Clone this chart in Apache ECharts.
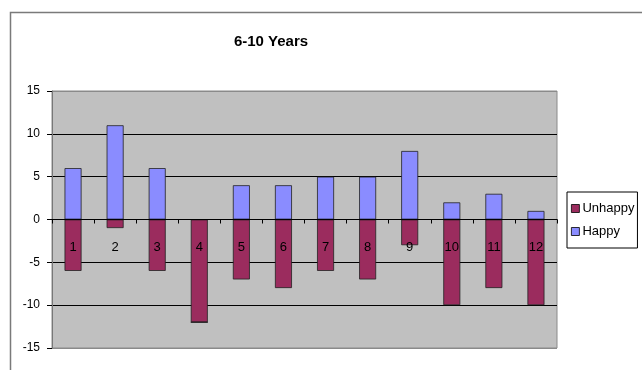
<!DOCTYPE html>
<html>
<head>
<meta charset="utf-8">
<script src="https://cdn.jsdelivr.net/npm/echarts@6/dist/echarts.min.js"></script>
<style>
  html, body { margin: 0; padding: 0; background: #ffffff; }
  #chart { width: 642px; height: 370px; }
</style>
</head>
<body>
<div id="chart"></div>
<script>
// Respondent groups and their counts
const categories = ['1', '2', '3', '4', '5', '6', '7', '8', '9', '10', '11', '12'];
const unhappy = [-6, -1, -6, -12, -7, -8, -6, -7, -3, -10, -8, -10];
const happy = [6, 11, 6, 0, 4, 4, 5, 5, 8, 2, 3, 1];
const yTicks = { min: -15, max: 15, step: 5 };

const chart = echarts.init(document.getElementById('chart'));
const font = '"Liberation Sans", Arial, sans-serif';

chart.setOption({
  animation: false,
  backgroundColor: '#ffffff',
  textStyle: { fontFamily: font },
  graphic: [{
    type: 'rect',
    left: 8, top: 10,
    shape: { width: 700, height: 420 },
    style: { fill: 'none', stroke: '#7a7a7a', lineWidth: 1.5 },
    silent: true, z: -1
  }],
  title: {
    text: '6-10 Years',
    left: 266, top: 29,
    textAlign: 'center',
    textStyle: { fontFamily: font, fontSize: 15, fontWeight: 'bold', color: '#000' }
  },
  legend: {
    orient: 'vertical',
    left: 567, top: 192,
    data: [{ name: 'Unhappy', icon: 'rect' }, { name: 'Happy', icon: 'rect' }],
    itemWidth: 8, itemHeight: 8, itemGap: 10,
    padding: [10, 3, 10, 4],
    borderColor: '#000', borderWidth: 1,
    backgroundColor: '#fff',
    textStyle: { fontFamily: font, fontSize: 13, color: '#000', padding: [0, 0, 0, -2] },
    itemStyle: { borderColor: '#000', borderWidth: 0.8 }
  },
  grid: {
    left: 52, right: 85, top: 91, bottom: 22,
    show: true, backgroundColor: '#c0c0c0',
    borderColor: '#8a8a8a', borderWidth: 1
  },
  xAxis: {
    type: 'category',
    data: categories,
    z: 5,
    axisLine: { onZero: true, lineStyle: { color: '#000', width: 1 } },
    axisTick: { show: true, length: 4, lineStyle: { color: '#000' } },
    axisLabel: { margin: -107, fontFamily: font, fontSize: 13, color: '#000' }
  },
  yAxis: {
    type: 'value',
    min: yTicks.min, max: yTicks.max, interval: yTicks.step,
    axisLine: { show: true, lineStyle: { color: '#777' } },
    axisTick: { show: true, length: 5, lineStyle: { color: '#000' } },
    axisLabel: { margin: 12, fontFamily: font, fontSize: 12, color: '#000' },
    splitLine: { show: true, lineStyle: { color: ['#8a8a8a', '#000', '#000', '#000', '#000', '#000', '#8a8a8a'], width: 1 } }
  },
  series: [
    {
      name: 'Unhappy', type: 'bar', stack: 'total', data: unhappy,
      barWidth: 17,
      itemStyle: { color: '#9b2c5e', borderColor: '#222', borderWidth: 0.8 }
    },
    {
      name: 'Happy', type: 'bar', stack: 'total', data: happy,
      barWidth: 17,
      itemStyle: { color: '#8a8cff', borderColor: '#222', borderWidth: 0.8 }
    }
  ]
});
</script>
</body>
</html>
